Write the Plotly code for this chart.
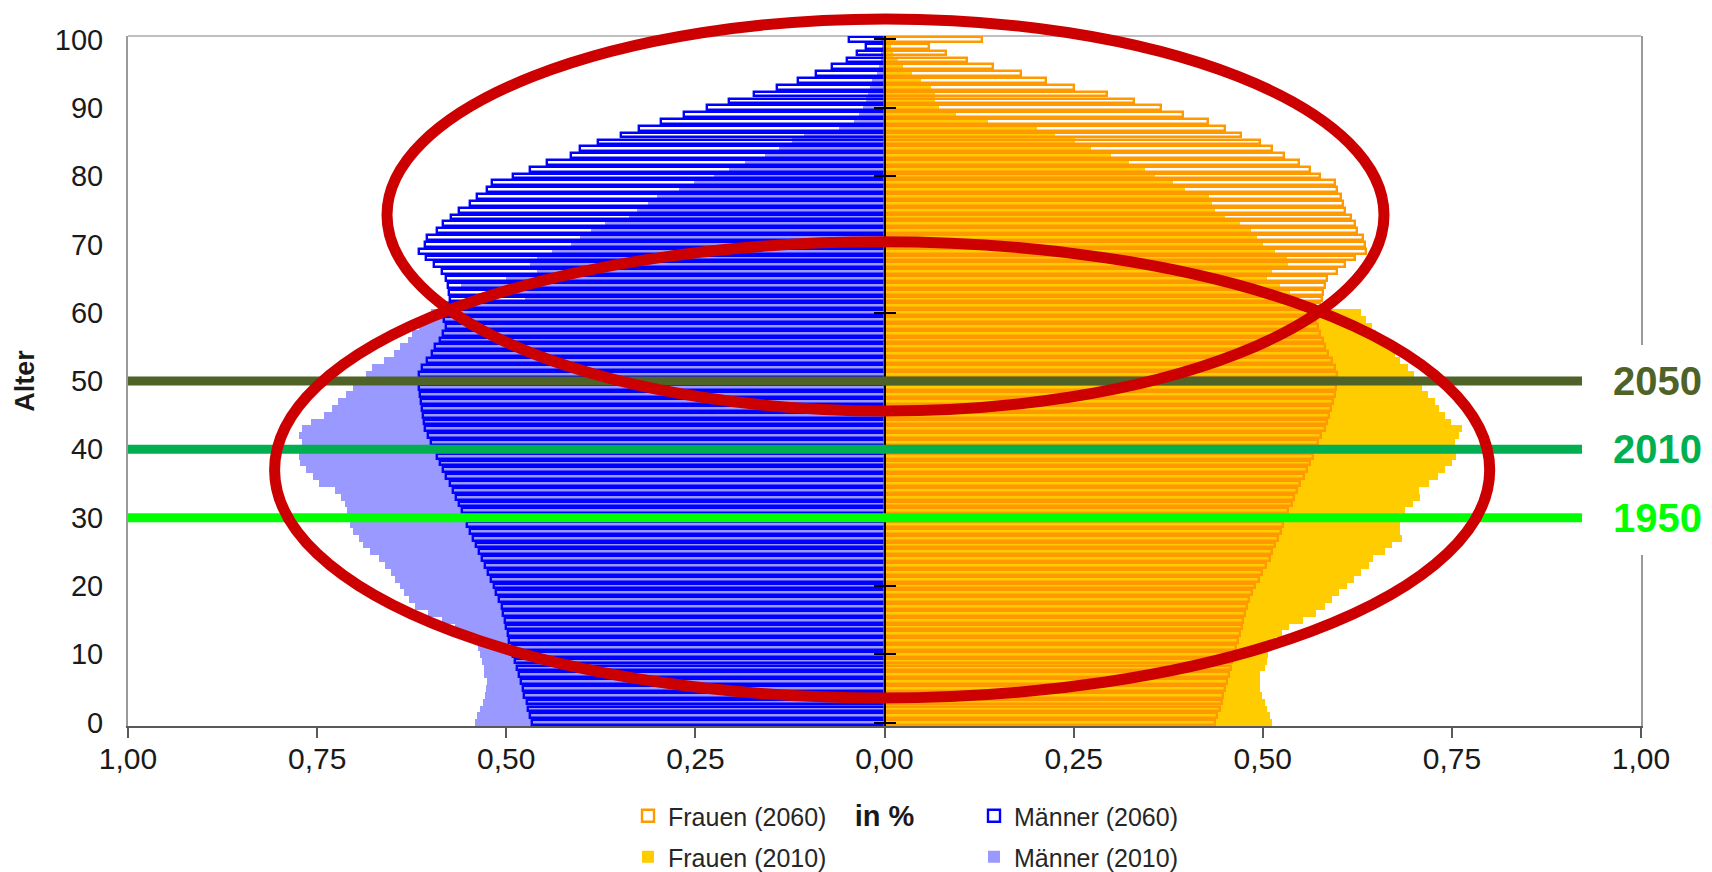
import plotly.graph_objects as go

# ---------------- data ----------------
ages = list(range(0, 101))

maenner_2010 = [
    0.541, 0.539, 0.535, 0.531, 0.528, 0.527, 0.526, 0.530, 0.530, 0.532,
    0.535, 0.537, 0.542, 0.556, 0.568, 0.585, 0.603, 0.620, 0.628, 0.635,
    0.641, 0.647, 0.653, 0.660, 0.668, 0.680, 0.690, 0.694, 0.703, 0.706,
    0.707, 0.710, 0.713, 0.719, 0.726, 0.747, 0.755, 0.765, 0.772, 0.774,
    0.770, 0.770, 0.774, 0.770, 0.758, 0.741, 0.731, 0.722, 0.712, 0.703,
    0.697, 0.686, 0.678, 0.662, 0.648, 0.640, 0.630, 0.624, 0.616, 0.608,
    0.600, 0.570, 0.475, 0.500, 0.560, 0.500, 0.459, 0.469, 0.459, 0.440,
    0.415, 0.402, 0.388, 0.369, 0.338, 0.327, 0.313, 0.301, 0.272, 0.252,
    0.225, 0.205, 0.184, 0.158, 0.140, 0.122, 0.107, 0.060, 0.040, 0.034,
    0.028, 0.025, 0.022, 0.019, 0.016, 0.010, 0.007, 0.005, 0.004, 0.003,
    0.004,
]

maenner_2060 = [
    0.466, 0.468, 0.471, 0.473, 0.476, 0.478, 0.480, 0.483, 0.486, 0.488,
    0.491, 0.493, 0.496, 0.498, 0.500, 0.502, 0.504, 0.506, 0.509, 0.513,
    0.516, 0.520, 0.524, 0.528, 0.532, 0.536, 0.540, 0.544, 0.548, 0.552,
    0.556, 0.559, 0.563, 0.566, 0.570, 0.574, 0.579, 0.583, 0.587, 0.592,
    0.596, 0.600, 0.604, 0.607, 0.609, 0.610, 0.612, 0.613, 0.614, 0.615,
    0.616, 0.615, 0.611, 0.605, 0.598, 0.594, 0.588, 0.584, 0.580, 0.582,
    0.580, 0.578, 0.575, 0.576, 0.577, 0.580, 0.585, 0.596, 0.606, 0.615,
    0.608, 0.605, 0.592, 0.583, 0.573, 0.562, 0.548, 0.539, 0.526, 0.519,
    0.491, 0.468, 0.446, 0.415, 0.402, 0.379, 0.348, 0.324, 0.296, 0.265,
    0.235, 0.205, 0.173, 0.142, 0.114, 0.091, 0.069, 0.050, 0.037, 0.024,
    0.047,
]

frauen_2010 = [
    0.512, 0.509, 0.505, 0.503, 0.499, 0.497, 0.496, 0.497, 0.503, 0.505,
    0.507, 0.510, 0.516, 0.525, 0.535, 0.553, 0.570, 0.582, 0.592, 0.601,
    0.611, 0.621, 0.630, 0.640, 0.646, 0.662, 0.671, 0.684, 0.682, 0.681,
    0.683, 0.688, 0.699, 0.708, 0.706, 0.720, 0.731, 0.741, 0.750, 0.756,
    0.755, 0.754, 0.760, 0.763, 0.749, 0.741, 0.733, 0.728, 0.719, 0.711,
    0.705, 0.700, 0.692, 0.681, 0.675, 0.665, 0.659, 0.650, 0.644, 0.636,
    0.630, 0.570, 0.545, 0.536, 0.523, 0.505, 0.512, 0.534, 0.532, 0.516,
    0.500, 0.493, 0.485, 0.470, 0.450, 0.437, 0.433, 0.429, 0.397, 0.382,
    0.357, 0.345, 0.323, 0.300, 0.273, 0.252, 0.226, 0.201, 0.137, 0.095,
    0.072, 0.067, 0.067, 0.061, 0.048, 0.036, 0.024, 0.018, 0.011, 0.008,
    0.014,
]

frauen_2060 = [
    0.437, 0.440, 0.443, 0.446, 0.448, 0.450, 0.453, 0.455, 0.458, 0.460,
    0.462, 0.465, 0.467, 0.470, 0.472, 0.474, 0.476, 0.479, 0.482, 0.486,
    0.490, 0.495, 0.499, 0.504, 0.509, 0.512, 0.516, 0.520, 0.524, 0.527,
    0.531, 0.534, 0.538, 0.541, 0.545, 0.549, 0.554, 0.558, 0.562, 0.566,
    0.569, 0.573, 0.577, 0.582, 0.585, 0.588, 0.590, 0.593, 0.595, 0.597,
    0.598, 0.598, 0.595, 0.591, 0.586, 0.582, 0.579, 0.576, 0.573, 0.571,
    0.574, 0.576, 0.578, 0.580, 0.582, 0.585, 0.598, 0.609, 0.622, 0.636,
    0.635, 0.633, 0.624, 0.622, 0.617, 0.609, 0.606, 0.604, 0.598, 0.595,
    0.576, 0.562, 0.548, 0.528, 0.512, 0.496, 0.471, 0.450, 0.428, 0.394,
    0.365, 0.330, 0.294, 0.251, 0.213, 0.180, 0.143, 0.109, 0.081, 0.059,
    0.129,
]

x_tickvals = [-1.0, -0.75, -0.5, -0.25, 0.0, 0.25, 0.5, 0.75, 1.0]
x_ticktext = ["1,00", "0,75", "0,50", "0,25", "0,00", "0,25", "0,50", "0,75", "1,00"]
y_tickvals = list(range(0, 101, 10))

marker_ages = [50, 40, 30]
marker_years = ["2050", "2010", "1950"]

# ---------------- styles ----------------
FONT = "Liberation Sans, Arial, sans-serif"
marker_colors = ["#4F6228", "#00B050", "#00FF00"]
C_M10 = "#9999FF"
C_F10 = "#FFCC00"
C_M60 = "#0000FF"
C_F60 = "#FF9900"
RED = "#CC0000"

W, H = 1712, 872
ML, MR, MT, MB = 128, 71, 36, 146
PW, PH = W - ML - MR, H - MT - MB


def px_x(x):
    return (x - ML) / PW


def px_y(y):
    return (H - MB - y) / PH


fig = go.Figure()

fig.add_trace(go.Bar(
    y=ages, x=[-v for v in maenner_2010], orientation="h", width=1.0,
    name="Männer (2010)", marker=dict(color=C_M10, line=dict(width=0)),
    legend="legend4", hoverinfo="skip"))
fig.add_trace(go.Bar(
    y=ages, x=frauen_2010, orientation="h", width=1.0,
    name="Frauen (2010)", marker=dict(color=C_F10, line=dict(width=0)),
    legend="legend3", hoverinfo="skip"))
fig.add_trace(go.Bar(
    y=ages, x=[-v for v in maenner_2060], orientation="h", width=0.7,
    name="Männer (2060)",
    marker=dict(color="rgba(0,0,0,0)", line=dict(color=C_M60, width=2.4)),
    legend="legend2", hoverinfo="skip"))
fig.add_trace(go.Bar(
    y=ages, x=frauen_2060, orientation="h", width=0.7,
    name="Frauen (2060)",
    marker=dict(color="rgba(0,0,0,0)", line=dict(color=C_F60, width=2.4)),
    legend="legend", hoverinfo="skip"))

# empty helper traces so the centre axis (cross ticks) is drawn
fig.add_trace(go.Scatter(x=[None], y=[None], yaxis="y2", showlegend=False, hoverinfo="skip"))
fig.add_trace(go.Scatter(x=[None], y=[None], yaxis="y3", showlegend=False, hoverinfo="skip"))

shapes = []
# top border of the plot area
shapes.append(dict(type="line", xref="paper", yref="paper", x0=0, x1=1, y0=1, y1=1,
                   line=dict(color="#BFBFBF", width=2), layer="below"))
# horizontal cohort lines
for a, c in zip(marker_ages, marker_colors):
    shapes.append(dict(type="line", xref="x", yref="y", x0=-1, x1=0.922, y0=a, y1=a,
                       line=dict(color=c, width=9), layer="above"))
# white patch behind the year labels (breaks the right border)
shapes.append(dict(type="rect", xref="paper", yref="paper",
                   x0=px_x(1600), x1=px_x(1712), y0=px_y(555), y1=px_y(345),
                   fillcolor="white", line=dict(width=0), layer="above"))
# red ellipses
shapes.append(dict(type="circle", xref="paper", yref="paper",
                   x0=px_x(387), x1=px_x(1384), y0=px_y(411), y1=px_y(19),
                   line=dict(color=RED, width=11), layer="above"))
shapes.append(dict(type="circle", xref="paper", yref="paper",
                   x0=px_x(274.6), x1=px_x(1489.7), y0=px_y(698), y1=px_y(241.8),
                   line=dict(color=RED, width=11), layer="above"))

annotations = []
for a, yr, c in zip(marker_ages, marker_years, marker_colors):
    annotations.append(dict(xref="paper", yref="y", x=px_x(1611), y=a, text=yr,
                            xanchor="left", yanchor="middle", showarrow=False,
                            font=dict(family=FONT, size=40, color=c, weight="bold")))

legend_common = dict(orientation="h", xanchor="left", yanchor="middle",
                     bgcolor="rgba(0,0,0,0)", borderwidth=0,
                     font=dict(family=FONT, size=25, color="#262626"))
col1 = px_x(628)
col2 = px_x(974)
row1 = px_y(816)
row2 = px_y(857)

fig.update_layout(
    width=W, height=H,
    margin=dict(l=ML, r=MR, t=MT, b=MB, pad=0, autoexpand=False),
    paper_bgcolor="white", plot_bgcolor="white",
    barmode="overlay", bargap=0,
    font=dict(family=FONT, color="#1A1A1A"),
    shapes=shapes, annotations=annotations,
    legend=dict(x=col1, y=row1, **legend_common),
    legend2=dict(x=col2, y=row1, **legend_common),
    legend3=dict(x=col1, y=row2, **legend_common),
    legend4=dict(x=col2, y=row2, **legend_common),
    xaxis=dict(
        range=[-1, 1], tickvals=x_tickvals, ticktext=x_ticktext,
        showgrid=False, zeroline=False,
        showline=True, linecolor="#595959", linewidth=2,
        ticks="outside", ticklen=10, tickwidth=2, tickcolor="#595959",
        ticklabelstandoff=-5,
        tickfont=dict(family=FONT, size=30, color="#1A1A1A"),
        title=dict(text="in %", standoff=32,
                   font=dict(family=FONT, size=29, color="#1A1A1A", weight="bold")),
    ),
    yaxis=dict(
        range=[-0.5, 100.5], tickvals=y_tickvals,
        showgrid=False, zeroline=False,
        showline=True, linecolor="#9A9A9A", linewidth=2, mirror=True,
        ticks="", ticklabelstandoff=17,
        tickfont=dict(family=FONT, size=29, color="#1A1A1A"),
        title=dict(text="Alter", standoff=12,
                   font=dict(family=FONT, size=27, color="#1A1A1A", weight="bold")),
    ),
    yaxis2=dict(
        overlaying="y", anchor="free", position=0.5, side="left",
        range=[-0.5, 100.5], tickvals=y_tickvals,
        showgrid=False, zeroline=False, showticklabels=False,
        showline=True, linecolor="black", linewidth=2,
        ticks="outside", ticklen=10, tickwidth=2, tickcolor="black",
    ),
    yaxis3=dict(
        overlaying="y", anchor="free", position=0.5, side="right",
        range=[-0.5, 100.5], tickvals=y_tickvals,
        showgrid=False, zeroline=False, showticklabels=False,
        showline=False,
        ticks="outside", ticklen=10, tickwidth=2, tickcolor="black",
    ),
)

fig.write_html("out.html", config={"displayModeBar": False},
               post_script="document.body.style.margin='0';")
